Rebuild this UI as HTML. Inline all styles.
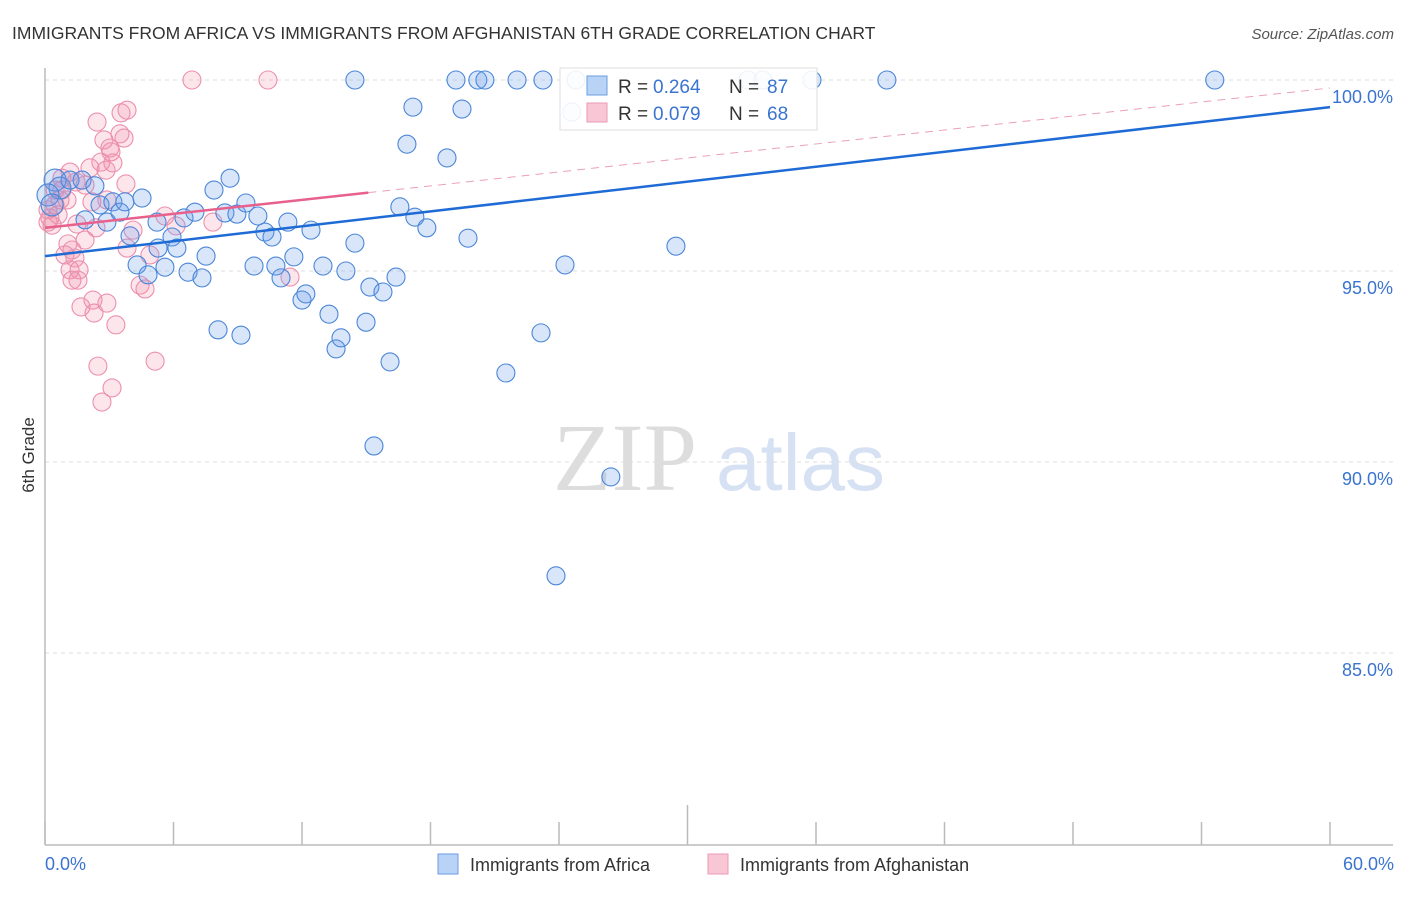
<!DOCTYPE html>
<html><head><meta charset="utf-8"><style>
body{margin:0;background:#fff;font-family:"Liberation Sans",sans-serif}
svg text{font-family:"Liberation Sans",sans-serif}
</style></head><body>
<svg id="chart" width="1406" height="892" xmlns="http://www.w3.org/2000/svg">
<text x="12" y="39" font-size="17.5" fill="#333">IMMIGRANTS FROM AFRICA VS IMMIGRANTS FROM AFGHANISTAN 6TH GRADE CORRELATION CHART</text>
<text x="1394" y="39" font-size="15" fill="#555" text-anchor="end" font-style="italic">Source: ZipAtlas.com</text>
<text transform="translate(34,455) rotate(-90)" font-size="17" fill="#333" text-anchor="middle">6th Grade</text>
<g>
<text x="553" y="490" font-size="96" fill="#ddd" font-family="Liberation Serif" style="font-family:'Liberation Serif',serif">ZIP</text>
<text x="716" y="490" font-size="80" fill="#d6e2f3">atlas</text>
</g>
<g id="grid"></g><g id="axes"></g><g id="pts"></g><g id="trend"></g>
<g>
<rect x="560" y="68" width="257" height="62" fill="#fff" fill-opacity="0.9" stroke="#ddd"/>
<rect x="587" y="76" width="20" height="19" fill="#b8d3f5" stroke="#6a9ee0"/>
<text x="618" y="93" font-size="19" fill="#333">R =</text>
<text x="653" y="93" font-size="19" fill="#3a74d0">0.264</text>
<text x="729" y="93" font-size="19" fill="#333">N =</text>
<text x="767" y="93" font-size="19" fill="#3a74d0">87</text>
<rect x="587" y="103" width="20" height="19" fill="#f9c6d5" stroke="#ec9ab4"/>
<text x="618" y="120" font-size="19" fill="#333">R =</text>
<text x="653" y="120" font-size="19" fill="#3a74d0">0.079</text>
<text x="729" y="120" font-size="19" fill="#333">N =</text>
<text x="767" y="120" font-size="19" fill="#3a74d0">68</text>
</g>
<g>
<rect x="438" y="854" width="20" height="20" fill="#b8d3f5" stroke="#6a9ee0"/>
<text x="470" y="871" font-size="18" fill="#333">Immigrants from Africa</text></g>
<g>
<rect x="708" y="854" width="20" height="20" fill="#f9c6d5" stroke="#ec9ab4"/>
<text x="740" y="871" font-size="18" fill="#333">Immigrants from Afghanistan</text></g>
</svg>
<script>
const yTicks=[100,95,90,85];
const xTickLabels=["0.0%","60.0%"];
const africaX=[0.47,0.70,1.17,1.73,2.33,1.87,2.57,3.17,2.89,3.50,3.73,4.53,3.97,5.28,4.30,4.81,5.60,5.23,5.93,6.16,6.49,6.68,7.00,7.33,7.52,7.89,8.08,8.40,8.64,8.96,9.15,9.38,9.76,9.94,10.27,10.60,10.78,11.02,11.34,11.62,12.00,12.18,12.42,12.98,13.26,13.59,13.82,14.05,14.47,14.99,15.17,15.78,16.11,16.39,15.36,16.57,16.90,17.18,17.27,17.83,18.77,19.47,19.75,21.52,23.16,24.28,26.42,23.86,29.46,14.47,19.19,20.21,20.54,22.04,23.25,24.79,32.82,33.52,35.81,39.31,54.62,24.60,0.14,0.33];
const africaY=[97.38,97.17,97.38,97.38,97.23,96.34,96.73,96.81,96.28,96.54,96.81,96.91,95.92,95.60,95.16,94.90,95.10,96.28,95.89,95.60,96.39,94.97,96.54,94.82,95.39,97.12,93.46,96.52,97.43,96.49,93.32,96.78,95.13,96.44,96.02,95.89,95.13,94.82,96.28,95.37,94.24,94.40,96.07,95.13,93.87,92.96,93.25,95.00,95.73,93.66,94.58,94.45,92.62,94.84,90.42,96.68,98.32,99.29,96.41,96.13,97.96,99.24,95.86,92.33,93.38,95.16,89.61,87.02,95.65,100,100,100,100,100,100,100,100,100,100,100,100,99.16,96.99,96.73];
const afghanX=[6.86,10.41,2.43,3.55,3.83,2.75,3.03,3.50,3.69,2.61,3.08,3.17,2.85,2.10,1.17,1.87,3.78,0.79,0.70,0.47,0.14,0.23,0.33,0.61,1.03,1.45,2.19,2.89,2.38,1.49,1.87,1.07,1.26,0.93,1.40,1.59,1.17,1.26,1.54,1.68,2.24,2.29,2.89,3.31,2.47,3.13,2.66,3.83,4.44,4.67,4.90,5.14,5.60,6.12,7.84,11.44,0.14,0.47,0.79,4.11];
const afghanY=[100,100,98.90,99.14,99.21,98.43,98.22,98.59,98.48,97.85,98.12,97.83,97.64,97.70,97.59,97.25,97.28,97.12,96.86,96.73,96.60,96.39,96.20,96.47,96.86,97.33,96.81,96.86,96.13,96.23,95.81,95.71,95.55,95.42,95.34,95.03,95.03,94.76,94.76,94.06,94.24,93.90,94.16,93.59,92.51,91.94,91.57,95.60,94.63,94.53,95.42,92.64,96.44,96.18,96.28,94.84,96.28,97.12,97.43,96.07];
const africaTrend=[95.39,99.29];
const afghanTrend=[96.13,99.79];
const afghanSolidEnd=15.1;
const sx=v=>45+v*(1285/60), sy=v=>80+(100-v)*38.2;
const NS="http://www.w3.org/2000/svg";
function mk(tag,attrs,parent){const e=document.createElementNS(NS,tag);for(const k in attrs)e.setAttribute(k,attrs[k]);document.getElementById(parent).appendChild(e);return e;}
yTicks.forEach(t=>{
 const l=mk('line',{x1:45,x2:1393,y1:sy(t),y2:sy(t),stroke:'#ddd','stroke-dasharray':'4,4'},'grid');
 
 
 const tx=mk('text',{x:1393,y:sy(t)+23,'font-size':18,fill:'#3a74d0','text-anchor':'end'},'grid');
 tx.textContent=t.toFixed(1)+'%';
 
 
});
let a=mk('line',{x1:45,x2:45,y1:68,y2:845,stroke:'#bbb','stroke-width':1.5},'axes');


a=mk('line',{x1:45,x2:1393,y1:845,y2:845,stroke:'#bbb','stroke-width':1.5},'axes');


for(let i=0;i<=10;i++){const t=mk('line',{x1:sx(i*6),x2:sx(i*6),y1:i==5?805:822,y2:845,stroke:'#bbb','stroke-width':1.5},'axes');
 
 }
[[0,'start',45],[60,'end',1394]].forEach((d,i)=>{const t=mk('text',{x:d[2],y:870,'font-size':18,fill:'#3a74d0','text-anchor':d[1]},'axes');t.textContent=xTickLabels[i];
 
 });
afghanX.forEach((x,i)=>{const c=mk('circle',{cx:sx(x),cy:sy(afghanY[i]),r:9,fill:'rgba(242,140,170,0.22)',stroke:'#ec8fae','stroke-width':1.1},'pts');
 
 });
africaX.forEach((x,i)=>{const c=mk('circle',{cx:sx(x),cy:sy(africaY[i]),r:(x<1?11:9),fill:'rgba(110,160,235,0.26)',stroke:'#4a86d8','stroke-width':1.1},'pts');
 
 });
const fy=(tr,x)=>tr[0]+(tr[1]-tr[0])*x/60;
let l=mk('line',{x1:sx(0),y1:sy(africaTrend[0]),x2:sx(60),y2:sy(africaTrend[1]),stroke:'#1f6bd6','stroke-width':2.5},'trend');


l=mk('line',{x1:sx(0),y1:sy(afghanTrend[0]),x2:sx(afghanSolidEnd),y2:sy(fy(afghanTrend,afghanSolidEnd)),stroke:'#e8608c','stroke-width':2.5},'trend');


l=mk('line',{x1:sx(afghanSolidEnd),y1:sy(fy(afghanTrend,afghanSolidEnd)),x2:sx(60),y2:sy(afghanTrend[1]),stroke:'#eaa0b8','stroke-width':1,'stroke-dasharray':'8,6'},'trend');


</script>
</body></html>
